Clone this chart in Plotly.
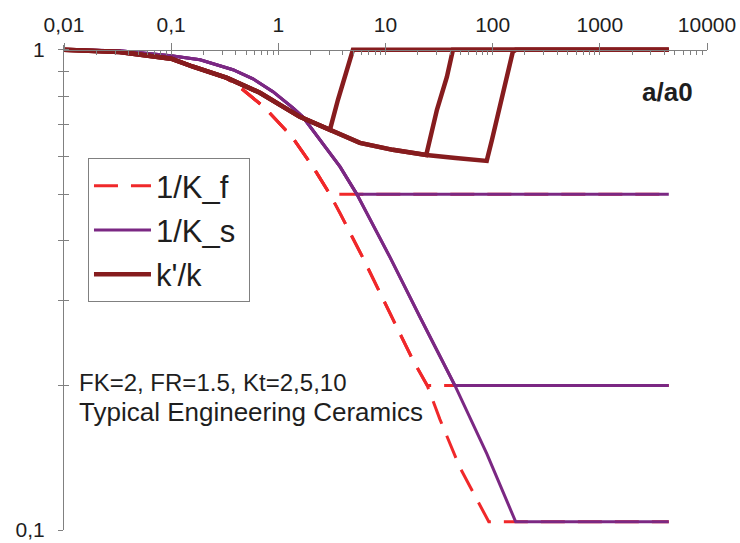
import plotly.graph_objects as go

# ---------------- data ----------------
# 1/K_f (red dashed), one branch per Kt = 2, 5, 10
kf_x_kt2 = [0.01, 0.033, 0.1, 0.16, 0.33, 0.41, 0.75, 1.34, 2.1, 3.03, 4400]
kf_y_kt2 = [1.0, 0.99, 0.96, 0.925, 0.872, 0.846, 0.757, 0.659, 0.571, 0.5, 0.5]
kf_x_kt5 = [0.01, 0.033, 0.1, 0.16, 0.33, 0.41, 0.75, 1.34, 2.1, 3.03, 3.76, 6.15, 11.7, 18.0, 24.5, 4400]
kf_y_kt5 = [1.0, 0.99, 0.96, 0.925, 0.872, 0.846, 0.757, 0.659, 0.571, 0.5, 0.457, 0.369, 0.274, 0.226, 0.2, 0.2]
kf_x_kt10 = [0.01, 0.033, 0.1, 0.16, 0.33, 0.41, 0.75, 1.34, 2.1, 3.03, 3.76, 6.15, 11.7, 18.0, 24.5, 32.2, 49.4, 92, 4400]
kf_y_kt10 = [1.0, 0.99, 0.96, 0.925, 0.872, 0.846, 0.757, 0.659, 0.571, 0.5, 0.457, 0.369, 0.274, 0.226, 0.2, 0.17, 0.135, 0.104, 0.104]

# 1/K_s (purple)
ks_x_kt2 = [0.01, 0.033, 0.1, 0.186, 0.377, 0.58, 0.891, 1.368, 1.69, 2.44, 3.76, 5.41, 4400]
ks_y_kt2 = [1.0, 0.995, 0.972, 0.953, 0.909, 0.870, 0.818, 0.757, 0.725, 0.649, 0.571, 0.5, 0.5]
ks_x_kt5 = [0.01, 0.033, 0.1, 0.186, 0.377, 0.58, 0.891, 1.368, 1.69, 2.44, 3.76, 5.41, 11.0, 20.9, 44.4, 4400]
ks_y_kt5 = [1.0, 0.995, 0.972, 0.953, 0.909, 0.870, 0.818, 0.757, 0.725, 0.649, 0.571, 0.5, 0.370, 0.278, 0.2, 0.2]
ks_x_kt10 = [0.01, 0.033, 0.1, 0.186, 0.377, 0.58, 0.891, 1.368, 1.69, 2.44, 3.76, 5.41, 11.0, 20.9, 44.4, 88.3, 154, 164, 4400]
ks_y_kt10 = [1.0, 0.995, 0.972, 0.953, 0.909, 0.870, 0.818, 0.757, 0.725, 0.649, 0.571, 0.5, 0.370, 0.278, 0.2, 0.144, 0.108, 0.104, 0.104]

# k'/k (dark red)
kk_x_kt2 = [0.01, 0.033, 0.1, 0.16, 0.332, 0.673, 1.59, 3.03, 3.6, 4.27, 4.97, 4400]
kk_y_kt2 = [1.0, 0.99, 0.958, 0.922, 0.874, 0.814, 0.725, 0.681, 0.787, 0.90, 1.0, 1.0]
kk_x_kt5 = [0.01, 0.033, 0.1, 0.16, 0.332, 0.673, 1.59, 3.03, 5.77, 11.7, 24.0, 30.2, 37.4, 42.6, 4400]
kk_y_kt5 = [1.0, 0.99, 0.958, 0.922, 0.874, 0.814, 0.725, 0.681, 0.640, 0.619, 0.604, 0.75, 0.878, 1.0, 1.0]
kk_x_kt10 = [0.01, 0.033, 0.1, 0.16, 0.332, 0.673, 1.59, 3.03, 5.77, 11.7, 24.0, 45.0, 88.0, 98.4, 117, 139, 154, 164, 4400]
kk_y_kt10 = [1.0, 0.99, 0.958, 0.922, 0.874, 0.814, 0.725, 0.681, 0.640, 0.619, 0.604, 0.595, 0.587, 0.649, 0.761, 0.896, 0.99, 1.0, 1.0]

x_tick_vals = [0.01, 0.1, 1, 10, 100, 1000, 10000]
x_tick_text = ["0,01", "0,1", "1", "10", "100", "1000", "10000"]
y_tick_vals = [0.1, 1]
y_tick_text = ["0,1", "1"]
y_minor_vals = [0.2, 0.3, 0.4, 0.5, 0.6, 0.7, 0.8, 0.9]

# ---------------- styling ----------------
FONT = "Liberation Sans, Arial, sans-serif"
TXT = "#1e1e1e"
GRID = "#808080"
RED = "#F0282A"
PURPLE = "#7B2883"
DARKRED = "#861C1E"

fig = go.Figure()

series = [
    ("1/K_f", "kf", RED, 3, "24px,13px", [(kf_x_kt2, kf_y_kt2), (kf_x_kt5, kf_y_kt5), (kf_x_kt10, kf_y_kt10)]),
    ("1/K_s", "ks", PURPLE, 3, "solid", [(ks_x_kt2, ks_y_kt2), (ks_x_kt5, ks_y_kt5), (ks_x_kt10, ks_y_kt10)]),
    ("k'/k", "kk", DARKRED, 4.5, "solid", [(kk_x_kt2, kk_y_kt2), (kk_x_kt5, kk_y_kt5), (kk_x_kt10, kk_y_kt10)]),
]
for name, grp, color, width, dash, branches in series:
    for i, (xs, ys) in enumerate(branches):
        fig.add_trace(go.Scatter(
            x=xs, y=ys, mode="lines", name=name + "\u00a0", legendgroup=grp,
            showlegend=(i == 0),
            line=dict(color=color, width=width, dash=dash),
            hoverinfo="skip",
        ))

# empty helper traces so overlay axes (crossing ticks) are drawn
fig.add_trace(go.Scatter(x=[], y=[], xaxis="x2", yaxis="y", showlegend=False, hoverinfo="skip"))
fig.add_trace(go.Scatter(x=[], y=[], xaxis="x", yaxis="y2", showlegend=False, hoverinfo="skip"))

YTOP = 0.01
xpos = 1 / (1 + YTOP)

fig.update_layout(
    width=740, height=543,
    margin=dict(l=64, r=33, t=45, b=13, pad=0, autoexpand=False),
    paper_bgcolor="white", plot_bgcolor="white",
    font=dict(family=FONT, color=TXT, size=21),
    xaxis=dict(
        type="log", range=[-2, 4], side="top", anchor="free", position=xpos,
        automargin=False,
        showgrid=False, zeroline=False, showline=True, linecolor=GRID, linewidth=1,
        ticks="outside", ticklen=7, tickcolor=GRID, tickwidth=1,
        tickmode="array", tickvals=x_tick_vals, ticktext=x_tick_text,
        tickfont=dict(size=21, color=TXT), ticklabelstandoff=2,
    ),
    xaxis2=dict(
        type="log", range=[-2, 4], side="top", anchor="free", position=xpos, overlaying="x",
        automargin=False,
        showgrid=False, zeroline=False, showline=False,
        ticks="inside", ticklen=4, tickcolor=GRID, tickwidth=1,
        tickmode="array",
        tickvals=[m * d for d in [0.01, 0.1, 1, 10, 100, 1000] for m in range(1, 10)] + [10000],
        showticklabels=False,
    ),
    yaxis=dict(
        type="log", range=[-1, YTOP], anchor="x", automargin=False,
        showgrid=False, zeroline=False, showline=True, linecolor=GRID, linewidth=1,
        ticks="outside", ticklen=5, tickcolor=GRID, tickwidth=1,
        tickmode="array", tickvals=y_tick_vals, ticktext=y_tick_text,
        tickfont=dict(size=21, color=TXT), ticklabelstandoff=9,
        minor=dict(ticks="outside", ticklen=5, tickcolor=GRID, tickwidth=1,
                   tickmode="array", tickvals=y_minor_vals, showgrid=False),
    ),
    yaxis2=dict(
        type="log", range=[-1, YTOP], anchor="x", overlaying="y", side="left", automargin=False,
        showgrid=False, zeroline=False, showline=False,
        ticks="inside", ticklen=5, tickcolor=GRID, tickwidth=1,
        tickmode="array", tickvals=y_tick_vals + y_minor_vals,
        showticklabels=False,
    ),
    legend=dict(
        x=0.0373, y=0.767, xanchor="left", yanchor="top",
        bgcolor="white", bordercolor=GRID, borderwidth=1,
        font=dict(family=FONT, size=31, color=TXT),
        traceorder="grouped", tracegroupgap=1, itemwidth=57,
    ),
    showlegend=True,
    annotations=[
        dict(text="<b>a/a0</b>", xref="paper", yref="paper", x=0.939, y=0.903,
             xanchor="center", yanchor="middle", showarrow=False,
             font=dict(family=FONT, size=26, color=TXT)),
        dict(text="FK=2, FR=1.5, Kt=2,5,10", xref="paper", yref="paper", x=0.0202, y=0.305,
             xanchor="left", yanchor="middle", showarrow=False,
             font=dict(family=FONT, size=24, color=TXT)),
        dict(text="Typical Engineering Ceramics", xref="paper", yref="paper", x=0.0202, y=0.243,
             xanchor="left", yanchor="middle", showarrow=False,
             font=dict(family=FONT, size=26, color=TXT)),
    ],
)

fig.write_html("out.html", config={"displayModeBar": False},
               post_script="document.body.style.margin='0';")
